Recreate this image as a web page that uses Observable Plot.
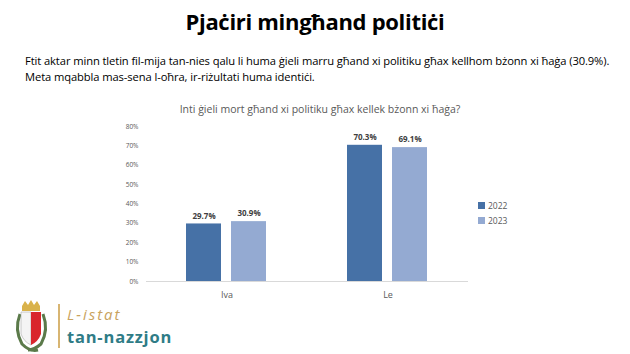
<!DOCTYPE html>
<html><head><meta charset="utf-8">
<script src="https://cdn.jsdelivr.net/npm/d3@7"></script>
<script src="https://cdn.jsdelivr.net/npm/@observablehq/plot@0.6"></script>
<style>
body{margin:0;background:#fff;width:630px;height:354px;overflow:hidden;position:relative;font-family:"Open Sans",sans-serif;}
.abs{position:absolute;white-space:nowrap;}
#title{left:0;width:630px;top:6px;text-align:center;font-weight:700;font-size:22px;color:#000;letter-spacing:-0.3px;}
#sub{left:25px;top:53px;font-size:11.2px;line-height:15.5px;color:#000;letter-spacing:-0.1px;}
#ctitle{left:0;width:640px;top:102px;text-align:center;font-size:10.5px;color:#595959;}
#legend{left:478px;top:198px;font-size:8.5px;color:#595959;line-height:15px;}
#legend span.sw{display:inline-block;width:7px;height:7px;margin-right:3px;vertical-align:-0px;}
#chart{left:0;top:0;}
#logo1{left:67px;top:304px;font-size:15px;line-height:normal;font-style:italic;color:#c9a35e;letter-spacing:2px;}
#logo2{left:67px;top:325px;font-size:16.5px;line-height:normal;font-weight:700;color:#2f7c86;letter-spacing:0.8px;}
</style></head>
<body>
<div id="chart" class="abs"></div>
<div id="title" class="abs">Pjaċiri mingħand politiċi</div>
<div id="sub" class="abs">Ftit aktar minn tletin fil-mija tan-nies qalu li huma ġieli marru għand xi politiku għax kellhom bżonn xi ħaġa (30.9%).<br>Meta mqabbla mas-sena l-oħra, ir-riżultati huma identiċi.</div>
<div id="ctitle" class="abs">Inti ġieli mort għand xi politiku għax kellek bżonn xi ħaġa?</div>
<div id="legend" class="abs"></div>
<svg class="abs" style="left:12px;top:300px" width="54" height="54">
  <rect x="46" y="4" width="2" height="44" fill="#d8b572"/>
  <path d="M10 6 L13 1 L16 5 L19 0 L22 5 L25 1 L28 6 L28 11 L10 11 Z" fill="#d9b24a"/>
  <path d="M8 14 Q2 30 10 44 Q18 52 26 50" fill="none" stroke="#5b7a4a" stroke-width="3"/>
  <path d="M31 14 Q37 30 29 44 Q22 50 16 50" fill="none" stroke="#5b7a4a" stroke-width="3"/>
  <path d="M9 12 L19 12 L19 45 Q12 42 9 34 Z" fill="#f4f4f4" stroke="#999" stroke-width="0.5"/>
  <path d="M19 12 L29 12 L29 34 Q26 42 19 45 Z" fill="#d9262c"/>
</svg>
<div id="logo1" class="abs">L-istat</div>
<div id="logo2" class="abs">tan-nazzjon</div>
<script>
const categories = ["Iva", "Le"];
const years = ["2022", "2023"];
const values2022 = [0.297, 0.703];
const values2023 = [0.309, 0.691];
const yTicks = [0, 0.1, 0.2, 0.3, 0.4, 0.5, 0.6, 0.7, 0.8];
const colors = ["#4671a6", "#94aad2"];

const data = [];
categories.forEach((c, i) => {
  data.push({cat: c, year: years[0], v: values2022[i]});
  data.push({cat: c, year: years[1], v: values2023[i]});
});

const chart = Plot.plot({
  width: 630,
  height: 354,
  marginLeft: 145,
  marginRight: 162,
  marginTop: 126,
  marginBottom: 73,
  style: {fontFamily: "'Open Sans', sans-serif", background: "transparent"},
  fx: {domain: categories, padding: 0, label: null, axis: null},
  x: {domain: years, paddingInner: 0.217, paddingOuter: 0.865, axis: null},
  y: {domain: [0, 0.8], ticks: yTicks, tickFormat: d3.format(".0%"), label: null},
  color: {domain: years, range: colors},
  marks: [
    Plot.axisY({ticks: yTicks, tickFormat: d3.format(".0%"), tickSize: 0, tickPadding: 8, fontSize: 6.5, fill: "#595959", label: null}),
    Plot.axisFx({anchor: "bottom", tickSize: 0, tickPadding: 10, fontSize: 9, fill: "#595959", label: null}),
    Plot.barY(data, {fx: "cat", x: "year", y: "v", fill: "year"}),
    Plot.ruleY([0], {stroke: "#d9d9d9", strokeWidth: 1}),
    Plot.text(data, {fx: "cat", x: "year", y: "v", text: d => (d.v * 100).toFixed(1) + "%", dy: -8, fontSize: 8, fontWeight: "bold", fill: "#404040"})
  ]
});
document.getElementById("chart").appendChild(chart);

const leg = document.getElementById("legend");
years.forEach((y, i) => {
  const row = document.createElement("div");
  row.innerHTML = `<span class="sw" style="background:${colors[i]}"></span>${y}`;
  leg.appendChild(row);
});
</script>
</body></html>
